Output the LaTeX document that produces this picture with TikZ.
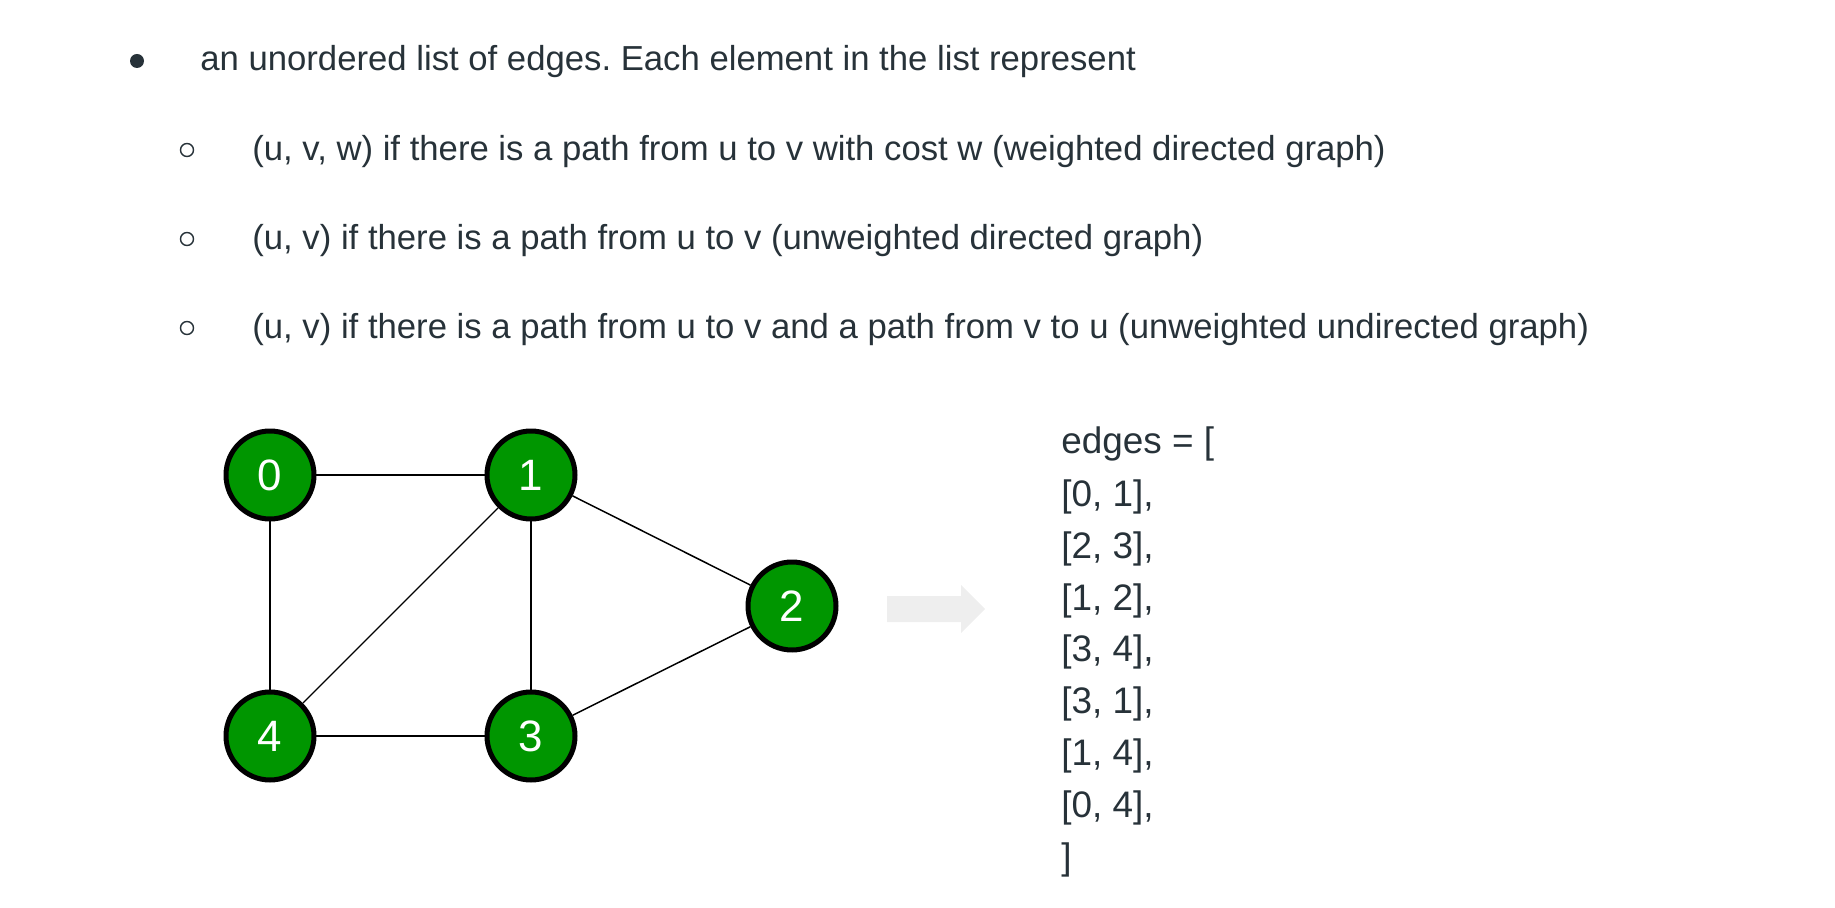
\documentclass[tikz,border=0pt]{standalone}
\usepackage{fontspec}
\setmainfont{Liberation Sans}
\definecolor{txtgray}{HTML}{273239}
\definecolor{nodegreen}{HTML}{009600}
\definecolor{arrowgray}{HTML}{EEEEEE}
\frenchspacing

\begin{document}
\begin{tikzpicture}[x=0.02cm, y=-0.02cm,
    vertex/.style={circle, draw=black, line width=2.85pt, fill=nodegreen, minimum size=1.76cm, inner sep=0pt, text=white, font=\fontsize{25pt}{30pt}\selectfont},
    line/.style={anchor=base west, text=txtgray, inner sep=0pt, font=\fontsize{19.75pt}{24pt}\selectfont},
    entry/.style={anchor=base west, text=txtgray, inner sep=0pt, font=\fontsize{21pt}{26pt}\selectfont}]
    \useasboundingbox (0, 0) rectangle (1835, 908);
    % list text
    \fill[txtgray] (137, 61) circle (7);
    \draw[txtgray, line width=0.8pt] (187, 150) circle (6.5);
    \draw[txtgray, line width=0.8pt] (187, 239) circle (6.5);
    \draw[txtgray, line width=0.8pt] (187, 328) circle (6.5);
    \node[line] (intro) at (200, 71) {an unordered list of edges. Each element in the list represent};
    \node[line] (weighted) at (252, 161) {(u, v, w) if there is a path from u to v with cost w (weighted directed graph)};
    \node[line] (directed) at (252, 250) {(u, v) if there is a path from u to v (unweighted directed graph)};
    \node[line] (undirected) at (252, 339) {(u, v) if there is a path from u to v and a path from v to u (unweighted undirected graph)};
    % graph
    \node[vertex] (v0) at (270, 475) {0};
    \node[vertex] (v1) at (531, 475) {1};
    \node[vertex] (v2) at (792, 606) {2};
    \node[vertex] (v3) at (531, 736) {3};
    \node[vertex] (v4) at (270, 736) {4};
    \draw[line width=1pt] (v0) -- (v1);
    \draw[line width=1pt] (v0) -- (v4);
    \draw[line width=0.7pt] (v1) -- (v4);
    \draw[line width=1pt] (v1) -- (v3);
    \draw[line width=0.85pt] (v1) -- (v2);
    \draw[line width=1pt] (v4) -- (v3);
    \draw[line width=0.85pt] (v3) -- (v2);
    % arrow
    \fill[arrowgray] (887, 596) -- (961, 596) -- (961, 585) -- (985, 609) -- (961, 633) -- (961, 622) -- (887, 622) -- cycle;
    % edge list
    \node[entry] (head) at (1061, 454) {edges = [};
    \node[entry] (e01) at (1061, 506) {[0, 1],};
    \node[entry] (e23) at (1061, 558) {[2, 3],};
    \node[entry] (e12) at (1061, 610) {[1, 2],};
    \node[entry] (e34) at (1061, 661) {[3, 4],};
    \node[entry] (e31) at (1061, 713) {[3, 1],};
    \node[entry] (e14) at (1061, 765) {[1, 4],};
    \node[entry] (e04) at (1061, 817) {[0, 4],};
    \node[entry] (tail) at (1061, 869) {]};
\end{tikzpicture}
\end{document}
